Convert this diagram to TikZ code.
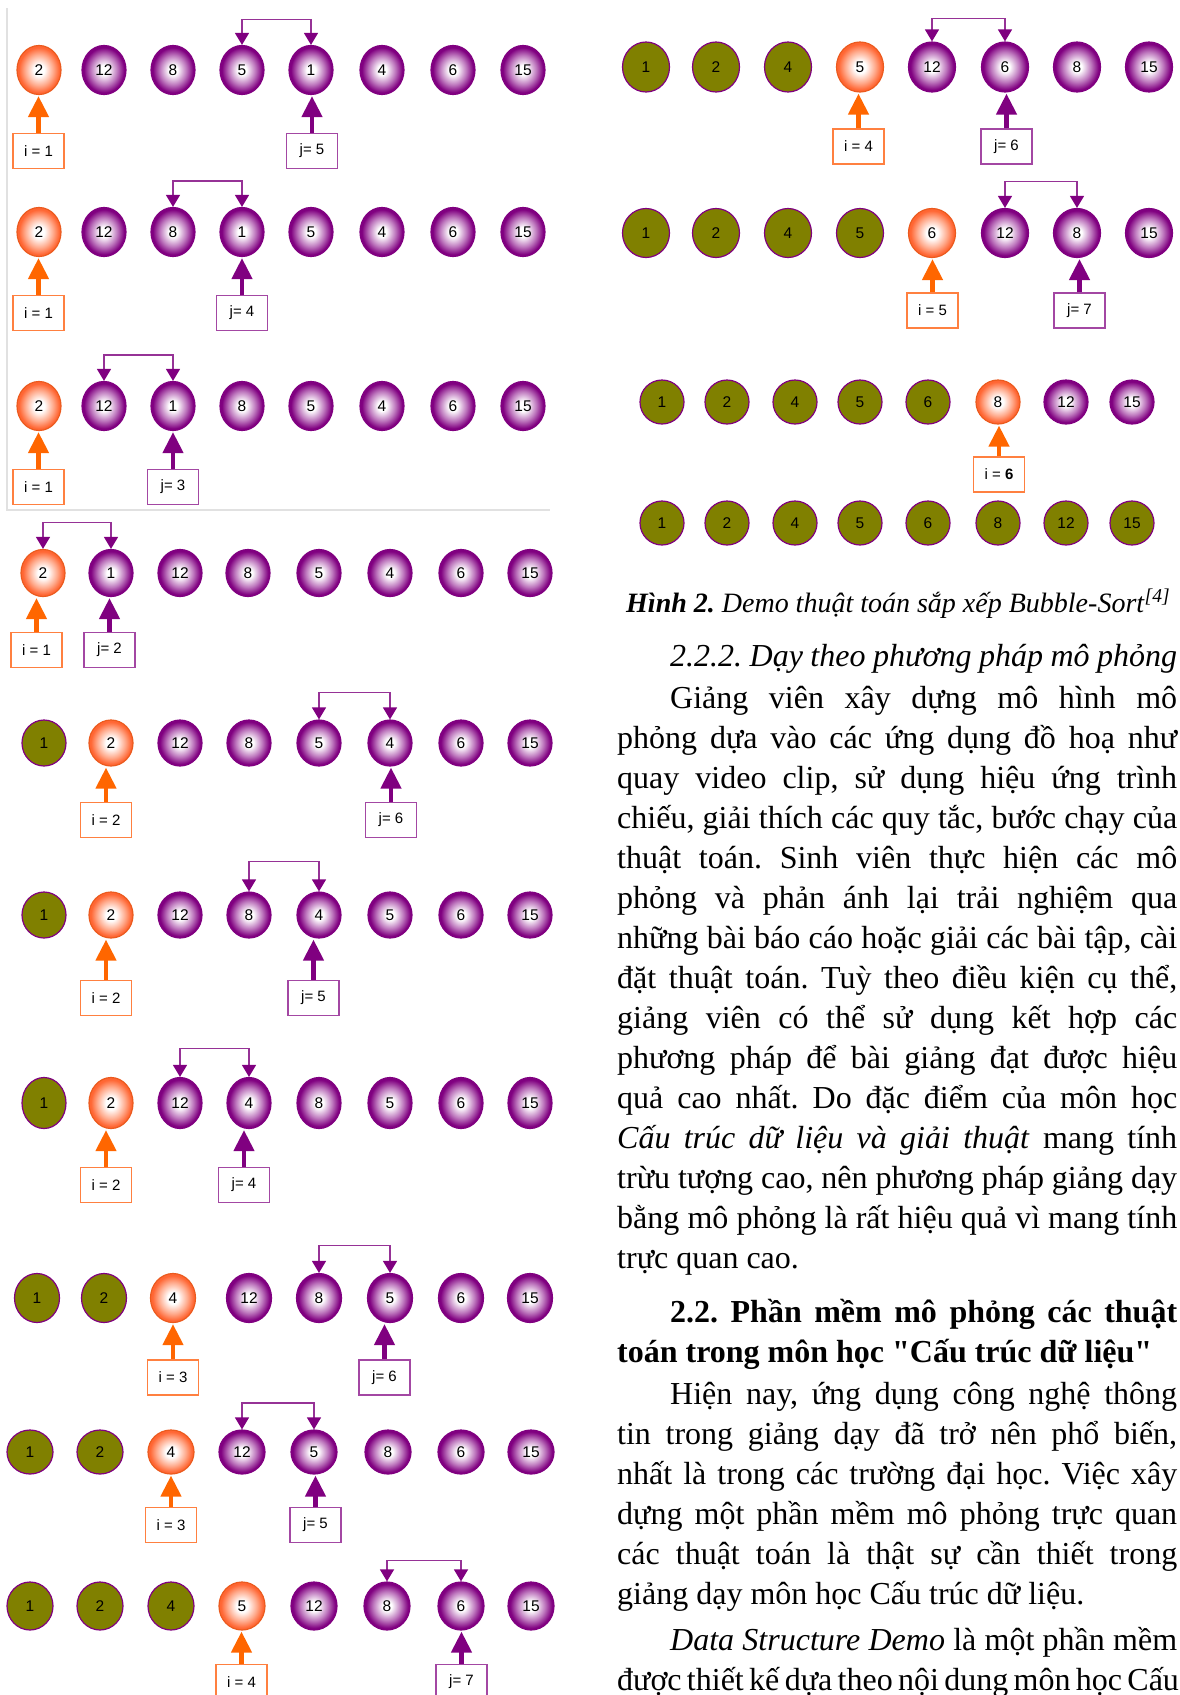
\documentclass[tikz,border=0pt]{standalone}
\usepackage{fontspec}
\setmainfont{Liberation Serif}
\newfontfamily\plainserif{Liberation Serif}
\newfontfamily\ballfont{Liberation Sans}
\usetikzlibrary{shapes.geometric,arrows.meta}
\definecolor{bpurple}{RGB}{128,0,128}
\definecolor{bmid}{RGB}{190,120,190}
\definecolor{borange}{RGB}{255,102,51}
\definecolor{omid}{RGB}{255,170,140}
\definecolor{borangeedge}{RGB}{235,90,30}
\definecolor{bolive}{RGB}{128,128,0}
\definecolor{iarrow}{RGB}{255,102,0}
\definecolor{iboxc}{RGB}{255,128,64}
\definecolor{jboxc}{RGB}{163,71,163}
\definecolor{bracketc}{RGB}{150,50,150}
\definecolor{framec}{RGB}{225,225,225}
\pgfdeclareradialshading{purpleball}{\pgfpoint{0bp}{0bp}}{color(0bp)=(white); color(5bp)=(white); color(15bp)=(bmid); color(23bp)=(bpurple); color(25bp)=(bpurple); color(50bp)=(bpurple)}
\pgfdeclareradialshading{orangeball}{\pgfpoint{0bp}{0bp}}{color(0bp)=(white); color(6bp)=(white); color(16bp)=(omid); color(23bp)=(borange); color(25bp)=(borange); color(50bp)=(borange)}
\tikzset{
  bead/.style={ellipse, inner sep=0pt, line width=1.2pt, text=black, font=\ballfont\fontsize{15.5}{15.5}\selectfont},
  kindP/.style={shading=purpleball, draw=bpurple},
  kindO/.style={shading=orangeball, draw=borangeedge},
  kindG/.style={fill=bolive, draw=bpurple},
  ibox/.style={draw=iboxc, line width=1.5pt, fill=white, minimum width=51pt, minimum height=35pt, inner sep=0pt, font=\ballfont\fontsize{15}{15}\selectfont},
  jbox/.style={draw=jboxc, line width=1.5pt, fill=white, minimum width=51pt, minimum height=35pt, inner sep=0pt, font=\ballfont\fontsize{15}{15}\selectfont},
  iptr/.style={draw=iarrow, line width=4.5pt, -{Triangle[width=20pt,length=21pt]}, shorten >=1pt},
  jptr/.style={draw=bpurple, line width=4.5pt, -{Triangle[width=20pt,length=21pt]}, shorten >=1pt},
  swapline/.style={draw=bracketc, line width=1.5pt, {Triangle[width=14pt,length=12pt,color=bpurple]}-{Triangle[width=14pt,length=12pt,color=bpurple]}},
  txt/.style={anchor=base west, inner sep=0pt, font=\fontsize{32}{40}\selectfont},
}
\newcommand\mkrow[5]{\foreach \xx/\lab/\kind [count=\k] in {#5}{\node[bead, kind\kind, minimum width=#3pt, minimum height=#4pt] (#1-\k) at (\xx,#2) {\lab};}}
\newcommand\swapon[4]{\draw[swapline] (#1-#2.north) -- ++(0,-#4) -| (#1-#3.north);}
\newcommand\ptr[6]{\node[#1box] (#2) at (#3,#4) {#5}; \draw[#1ptr] (#2.north) -- (#2.north |- #6.south);}
\frenchspacing
\begin{document}
\frenchspacing
\begin{tikzpicture}[x=1pt,y=-1pt]
\useasboundingbox (0,0) rectangle (1179,1695);
\fill[white] (0,0) rectangle (1179,1695);
\draw[framec, line width=1.5pt] (7,8) -- (7,510) -- (550,510);
% left column
\mkrow{R1}{70}{44}{49}{39/2/O,104/12/P,173/8/P,242/5/P,311/1/P,382/4/P,453/6/P,523/15/P}
\swapon{R1}{4}{5}{25.5}
\ptr{i}{R1i}{38.5}{151}{i = 1}{R1-1}
\ptr{j}{R1j}{312}{151}{j= 5}{R1-5}
\mkrow{R2}{232}{44}{49}{39/2/O,104/12/P,173/8/P,242/1/P,311/5/P,382/4/P,453/6/P,523/15/P}
\swapon{R2}{3}{4}{26}
\ptr{i}{R2i}{38.5}{313}{i = 1}{R2-1}
\ptr{j}{R2j}{242}{313}{j= 4}{R2-4}
\mkrow{R3}{406}{44}{49}{39/2/O,104/12/P,173/1/P,242/8/P,311/5/P,382/4/P,453/6/P,523/15/P}
\swapon{R3}{2}{3}{26}
\ptr{i}{R3i}{38.5}{487}{i = 1}{R3-1}
\ptr{j}{R3j}{173}{487}{j= 3}{R3-3}
\mkrow{R4}{573}{44}{47}{43/2/O,111/1/P,180/12/P,248/8/P,319/5/P,390/4/P,461/6/P,530/15/P}
\swapon{R4}{1}{2}{26.5}
\ptr{i}{R4i}{36.5}{650}{i = 1}{R4-1}
\ptr{j}{R4j}{109.5}{650}{j= 2}{R4-2}
\mkrow{R5}{743}{44}{46}{44/1/G,111/2/O,180/12/P,249/8/P,319/5/P,390/4/P,461/6/P,530/15/P}
\swapon{R5}{5}{6}{27}
\ptr{i}{R5i}{106}{820}{i = 2}{R5-2}
\ptr{j}{R5j}{391}{820}{j= 6}{R5-6}
\mkrow{R6}{915}{44}{46}{44/1/G,111/2/O,180/12/P,249/8/P,319/4/P,390/5/P,461/6/P,530/15/P}
\swapon{R6}{4}{5}{30}
\ptr{i}{R6i}{106}{998}{i = 2}{R6-2}
\ptr{j}{R6j}{313.5}{998}{j= 5}{R6-5}
\mkrow{R7}{1103}{44}{51}{44/1/G,111/2/O,180/12/P,249/4/P,319/8/P,390/5/P,461/6/P,530/15/P}
\swapon{R7}{3}{4}{28.5}
\ptr{i}{R7i}{106}{1185}{i = 2}{R7-2}
\ptr{j}{R7j}{244}{1185}{j= 4}{R7-4}
\mkrow{R8}{1298}{45}{49}{37/1/G,104/2/G,173/4/O,249/12/P,319/8/P,390/5/P,461/6/P,530/15/P}
\swapon{R8}{5}{6}{27.5}
\ptr{i}{R8i}{173}{1377.5}{i = 3}{R8-3}
\ptr{j}{R8j}{384.5}{1377.5}{j= 6}{R8-6}
\mkrow{R9}{1452}{46}{44}{30/1/G,100/2/G,171/4/O,242/12/P,314/5/P,388/8/P,461/6/P,531/15/P}
\swapon{R9}{4}{5}{26.5}
\ptr{i}{R9i}{171}{1525}{i = 3}{R9-3}
\ptr{j}{R9j}{315.5}{1525}{j= 5}{R9-5}
\mkrow{R10}{1606}{46}{48}{30/1/G,100/2/G,171/4/G,242/5/O,314/12/P,387/8/P,461/6/P,531/15/P}
\swapon{R10}{6}{7}{21}
\ptr{i}{R10i}{241.5}{1682}{i = 4}{R10-4}
\ptr{j}{R10j}{461.5}{1682}{j= 7}{R10-7}
% right column
\mkrow{S1}{67}{47}{50}{646/1/G,716/2/G,788/4/G,860/5/O,932/12/P,1005/6/P,1077/8/P,1149/15/P}
\swapon{S1}{5}{6}{23}
\ptr{i}{S1i}{858.5}{146.5}{i = 4}{S1-4}
\ptr{j}{S1j}{1006.5}{146.5}{j= 6}{S1-6}
\mkrow{S2}{233}{47}{49}{646/1/G,716/2/G,788/4/G,860/5/G,932/6/O,1005/12/P,1077/8/P,1149/15/P}
\swapon{S2}{6}{7}{26.5}
\ptr{i}{S2i}{932.5}{310.5}{i = 5}{S2-5}
\ptr{j}{S2j}{1079.5}{310.5}{j= 7}{S2-7}
\mkrow{S3}{402}{44}{44}{662/1/G,727/2/G,795/4/G,860/5/G,928/6/G,998/8/O,1066/12/P,1132/15/P}
\ptr{i}{S3i}{999}{474.5}{i = \textbf{6}}{S3-6}
\mkrow{S4}{523}{44}{44}{662/1/G,727/2/G,795/4/G,860/5/G,928/6/G,998/8/G,1066/12/G,1132/15/G}
% caption and text
\node[anchor=base west, inner sep=0pt, font=\fontsize{28}{34}\selectfont] (cap) at (626,612) {\textbf{\textit{Hình 2.}} \textit{Demo thuật toán sắp xếp Bubble-Sort}\textsuperscript{\textit{[4]}}};
\node[txt] (h1) at (670,666) {\makebox[507pt][s]{\textit{2.2.2. Dạy theo phương pháp mô phỏng}}};
\node[txt] (l1) at (670,708) {\makebox[507pt][s]{Giảng viên xây dựng mô hình mô}};
\node[txt] (l2) at (617,748) {\makebox[560pt][s]{phỏng dựa vào các ứng dụng đồ hoạ như}};
\node[txt] (l3) at (617,788) {\makebox[560pt][s]{quay video clip, sử dụng hiệu ứng trình}};
\node[txt] (l4) at (617,828) {\makebox[560pt][s]{chiếu, giải thích các quy tắc, bước chạy của}};
\node[txt] (l5) at (617,868) {\makebox[560pt][s]{thuật toán. Sinh viên thực hiện các mô}};
\node[txt] (l6) at (617,908) {\makebox[560pt][s]{phỏng và phản ánh lại trải nghiệm qua}};
\node[txt] (l7) at (617,948) {\makebox[560pt][s]{những bài báo cáo hoặc giải các bài tập, cài}};
\node[txt] (l8) at (617,988) {\makebox[560pt][s]{đặt thuật toán. Tuỳ theo điều kiện cụ thể,}};
\node[txt] (l9) at (617,1028) {\makebox[560pt][s]{giảng viên có thể sử dụng kết hợp các}};
\node[txt] (l10) at (617,1068) {\makebox[560pt][s]{phương pháp để bài giảng đạt được hiệu}};
\node[txt] (l11) at (617,1108) {\makebox[560pt][s]{quả cao nhất. Do đặc điểm của môn học}};
\node[txt] (l12) at (617,1148) {\makebox[560pt][s]{\textit{Cấu trúc dữ liệu và giải thuật} mang tính}};
\node[txt] (l13) at (617,1188) {\makebox[560pt][s]{trừu tượng cao, nên phương pháp giảng dạy}};
\node[txt] (l14) at (617,1228) {\makebox[560pt][s]{bằng mô phỏng là rất hiệu quả vì mang tính}};
\node[txt] (l15) at (617,1268) {trực quan cao.};
\node[txt] (h2) at (670,1322) {\makebox[507pt][s]{\textbf{2.2. Phần mềm mô phỏng các thuật}}};
\node[txt] (h3) at (617,1362) {\plainserif\bfseries toán trong môn học "Cấu trúc dữ liệu"};
\node[txt] (m1) at (670,1404) {\makebox[507pt][s]{Hiện nay, ứng dụng công nghệ thông}};
\node[txt] (m2) at (617,1444) {\makebox[560pt][s]{tin trong giảng dạy đã trở nên phổ biến,}};
\node[txt] (m3) at (617,1484) {\makebox[560pt][s]{nhất là trong các trường đại học. Việc xây}};
\node[txt] (m4) at (617,1524) {\makebox[560pt][s]{dựng một phần mềm mô phỏng trực quan}};
\node[txt] (m5) at (617,1564) {\makebox[560pt][s]{các thuật toán là thật sự cần thiết trong}};
\node[txt] (m6) at (617,1604) {giảng dạy môn học Cấu trúc dữ liệu.};
\node[txt] (n1) at (670,1650) {\makebox[507pt][s]{\textit{Data Structure Demo} là một phần mềm}};
\node[txt] (n2) at (617,1690) {\makebox[560pt][s]{được thiết kế dựa theo nội dung môn học Cấu}};
\end{tikzpicture}
\end{document}
